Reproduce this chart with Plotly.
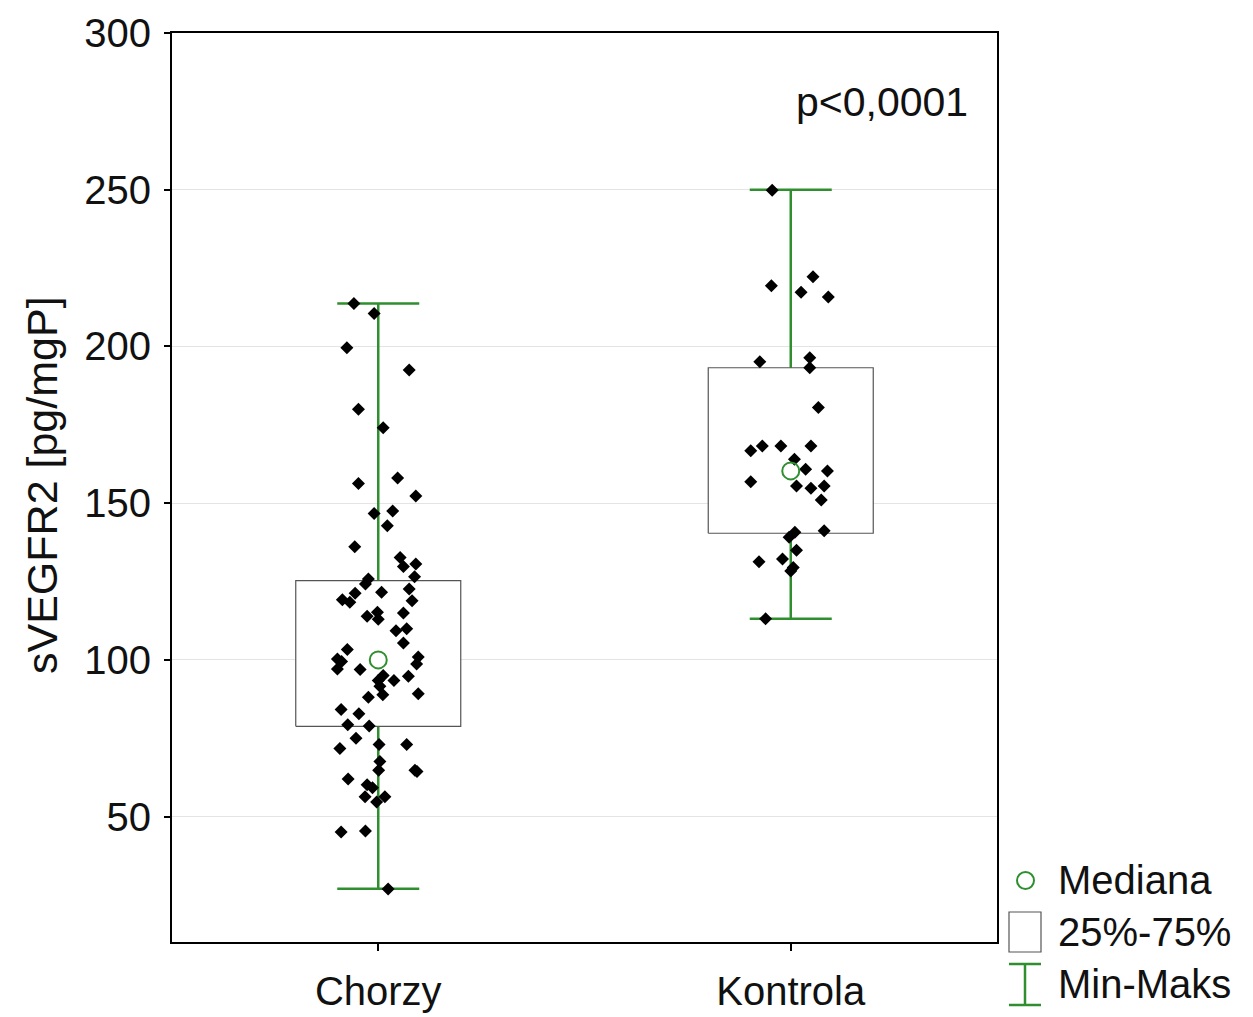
import plotly.graph_objects as go

# ---------------- data ----------------
categories = ["Chorzy", "Kontrola"]

# summary statistics per group
minimum = [27.0, 113.1]
q1 = [78.8, 140.4]
median = [100.0, 160.3]
q3 = [125.3, 193.2]
maximum = [213.7, 250.0]

# individual observations (value, horizontal jitter offset)
chorzy_values = [213.7, 210.5, 199.6, 192.5, 180.0, 174.1, 156.3, 158.0, 152.3, 146.7,
                 147.5, 142.8, 136.1, 132.7, 129.8, 130.6, 126.5, 125.8, 124.2, 121.3,
                 121.6, 122.6, 119.2, 118.4, 118.9, 113.9, 115.2, 113.0, 115.0, 109.3,
                 109.9, 105.4, 103.3, 100.3, 99.5, 97.1, 100.9, 98.7, 96.9, 95.0,
                 93.4, 93.4, 94.8, 91.6, 88.9, 89.2, 88.1, 84.2, 82.8, 79.3,
                 78.9, 75.0, 73.0, 73.0, 71.7, 67.6, 64.8, 64.8, 64.4, 62.0,
                 60.2, 59.2, 56.3, 56.3, 54.7, 45.1, 45.4, 26.9]
chorzy_jitter = [-0.059, -0.010, -0.076, 0.075, -0.048, 0.012, -0.048, 0.047, 0.091, -0.010,
                 0.035, 0.022, -0.057, 0.053, 0.061, 0.091, 0.088, -0.024, -0.031, -0.056,
                 0.008, 0.075, -0.087, -0.069, 0.082, -0.027, -0.002, 0.000, 0.061, 0.043,
                 0.069, 0.061, -0.075, -0.099, -0.089, -0.099, 0.097, 0.093, -0.044, 0.012,
                 0.000, 0.038, 0.073, 0.004, 0.011, 0.097, -0.024, -0.090, -0.047, -0.074,
                 -0.022, -0.054, 0.002, 0.069, -0.093, 0.004, 0.001, 0.089, 0.094, -0.073,
                 -0.027, -0.014, -0.032, 0.016, -0.004, -0.090, -0.031, 0.024]

kontrola_values = [249.8, 219.4, 222.2, 217.3, 215.8, 195.1, 196.4, 193.2, 180.5, 166.7,
                   168.2, 168.2, 168.2, 164.0, 160.8, 160.3, 156.8, 155.5, 154.8, 155.5,
                   151.0, 140.7, 139.1, 141.2, 135.0, 131.3, 132.2, 129.5, 128.4, 113.1]
kontrola_jitter = [-0.045, -0.047, 0.054, 0.025, 0.091, -0.075, 0.046, 0.046, 0.067, -0.097,
                   -0.069, -0.024, 0.049, 0.009, 0.036, 0.089, -0.097, 0.014, 0.049, 0.081,
                   0.074, 0.010, -0.004, 0.081, 0.014, -0.077, -0.020, 0.006, 0.000, -0.061]

p_text = "p<0,0001"
y_title = "sVEGFR2 [pg/mgP]"
y_ticks = [50, 100, 150, 200, 250, 300]
legend_labels = ["Mediana", "25%-75%", "Min-Maks"]

# ---------------- style ----------------
FONT = "Liberation Sans, Arial, sans-serif"
GREEN = "#2f8f2f"
BOXW = 0.2
W, H = 1253, 1017
ML, MR, MT, MB = 172, 256, 33, 75
PW, PH = W - ML - MR, H - MT - MB

def px_x(px):
    return (px - ML) / PW

def px_y(py):
    return (H - MB - py) / PH

fig = go.Figure()

xs = list(range(len(categories)))

# whiskers (min-max with caps)
fig.add_trace(go.Scatter(
    x=xs, y=median, mode="markers",
    marker=dict(size=1, color="rgba(0,0,0,0)"),
    error_y=dict(type="data", symmetric=False,
                 array=[mx - md for mx, md in zip(maximum, median)],
                 arrayminus=[md - mn for md, mn in zip(median, minimum)],
                 color=GREEN, thickness=2.5, width=41),
    showlegend=False, hoverinfo="skip"))

# boxes (25%-75%)
for i in xs:
    fig.add_trace(go.Scatter(
        x=[i - BOXW, i + BOXW, i + BOXW, i - BOXW, i - BOXW],
        y=[q1[i], q1[i], q3[i], q3[i], q1[i]],
        mode="lines", fill="toself", fillcolor="white",
        line=dict(color="#555555", width=1.2),
        showlegend=False, hoverinfo="skip"))

# observations
fig.add_trace(go.Scatter(
    x=[0 + j for j in chorzy_jitter], y=chorzy_values, mode="markers",
    marker=dict(symbol="diamond", size=10, color="black"),
    showlegend=False))
fig.add_trace(go.Scatter(
    x=[1 + j for j in kontrola_jitter], y=kontrola_values, mode="markers",
    marker=dict(symbol="diamond", size=10, color="black"),
    showlegend=False))

# medians
fig.add_trace(go.Scatter(
    x=xs, y=median, mode="markers",
    marker=dict(symbol="circle-open", size=17, color=GREEN, line=dict(width=2)),
    showlegend=False))

# p-value annotation
fig.add_annotation(x=1.22, y=278, xref="x", yref="y", text=p_text, showarrow=False,
                   font=dict(family=FONT, size=41, color="#111111"))

# y title
fig.add_annotation(x=px_x(42), y=px_y(485), xref="paper", yref="paper", text=y_title,
                   textangle=-90, showarrow=False, xanchor="center", yanchor="middle",
                   font=dict(family=FONT, size=43, color="#111111"))

# ---- custom legend ----
leg_y = [880, 932, 984]
text_x = px_x(1056)
for lbl, ly in zip(legend_labels, leg_y):
    fig.add_annotation(x=text_x, y=px_y(ly), xref="paper", yref="paper", text=lbl,
                       showarrow=False, xanchor="left", yanchor="middle",
                       font=dict(family=FONT, size=40, color="#111111"))
# median symbol
fig.add_shape(type="circle", xref="paper", yref="paper",
              x0=px_x(1017), x1=px_x(1034), y0=px_y(889), y1=px_y(872),
              line=dict(color=GREEN, width=2))
# box symbol
fig.add_shape(type="rect", xref="paper", yref="paper",
              x0=px_x(1009), x1=px_x(1041), y0=px_y(952), y1=px_y(912),
              line=dict(color="#555555", width=1.2), fillcolor="white")
# min-max symbol
for seg in [((1009, 964), (1041, 964)), ((1025, 964), (1025, 1005)), ((1009, 1005), (1041, 1005))]:
    (a, b), (c, d) = seg
    fig.add_shape(type="line", xref="paper", yref="paper",
                  x0=px_x(a), y0=px_y(b), x1=px_x(c), y1=px_y(d),
                  line=dict(color=GREEN, width=2.5))

fig.update_layout(
    width=W, height=H,
    margin=dict(l=ML, r=MR, t=MT, b=MB, autoexpand=False),
    paper_bgcolor="white", plot_bgcolor="white",
    font=dict(family=FONT, size=40, color="#111111"),
    showlegend=False,
)
fig.update_xaxes(range=[-0.5, 1.5], tickvals=xs, ticktext=categories,
                 showgrid=False, zeroline=False,
                 showline=True, linecolor="black", linewidth=2, mirror=True,
                 ticks="outside", ticklen=7, tickcolor="black", tickwidth=1.5,
                 ticklabelstandoff=6,
                 tickfont=dict(family=FONT, size=40, color="#111111"))
fig.update_yaxes(range=[10, 300], tickvals=y_ticks,
                 showgrid=True, gridcolor="#e4e4e4", gridwidth=1, zeroline=False,
                 showline=True, linecolor="black", linewidth=2, mirror=True,
                 ticks="outside", ticklen=6, tickcolor="black", tickwidth=1.5,
                 ticklabelstandoff=5,
                 tickfont=dict(family=FONT, size=40, color="#111111"))

fig.write_html("out.html")
